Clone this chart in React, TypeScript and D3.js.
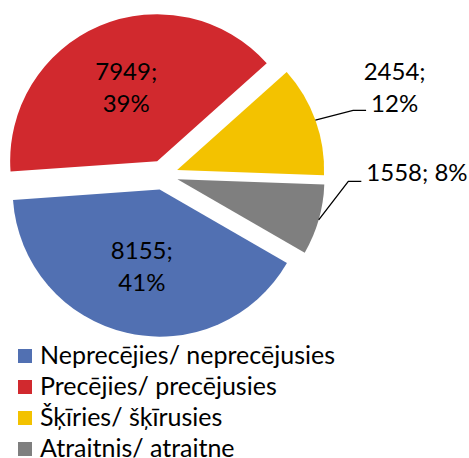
import React, { useEffect, useRef } from 'react';
import * as d3 from 'd3';

// data
const categories = [
  'Neprecējies/ neprecējusies',
  'Precējies/ precējusies',
  'Šķīries/ šķīrusies',
  'Atraitnis/ atraitne',
];
const counts = [8155, 7949, 2454, 1558];
const percentLabels = ['41%', '39%', '12%', '8%'];
const colors = ['#5170B2', '#D1292E', '#F3C200', '#7F7F7F'];
// how each data label is drawn: inside two lines, outside two lines, outside one line
const labelModes = ['inside', 'inside', 'outside2', 'outside1'];

const W = 469;
const H = 458;
const FONT = 'Lato, "Open Sans", sans-serif';

export default function App() {
  const ref = useRef<SVGSVGElement>(null);

  useEffect(() => {
    const svg = d3.select(ref.current);
    svg.selectAll('*').remove();

    const cx = 163;
    const cy = 175;
    const r = 147;
    const explode = 15;
    const start = (120 * Math.PI) / 180;

    const data = categories.map((c, i) => ({ name: c, value: counts[i], pct: percentLabels[i], i }));

    const pie = d3.pie<any>()
      .sort(null)
      .value(d => d.value)
      .startAngle(start)
      .endAngle(start + 2 * Math.PI);

    const arc = d3.arc<any>().innerRadius(0).outerRadius(r);
    const arcs = pie(data);

    const polar = (a: number, d: number) => [Math.sin(a) * d, -Math.cos(a) * d];

    const g = svg.append('g').attr('transform', `translate(${cx},${cy})`);

    const slice = g.selectAll('g.slice')
      .data(arcs).enter()
      .append('g')
      .attr('class', 'slice')
      .attr('transform', d => {
        const m = (d.startAngle + d.endAngle) / 2;
        const [dx, dy] = polar(m, explode);
        return `translate(${dx},${dy})`;
      });

    slice.append('path')
      .attr('d', arc)
      .attr('fill', (d, i) => colors[i]);

    // inside labels
    slice.filter((d, i) => labelModes[i] === 'inside')
      .append('text')
      .attr('text-anchor', 'middle')
      .attr('font-family', FONT)
      .attr('font-size', 24)
      .attr('fill', '#000')
      .each(function (d: any) {
        const m = (d.startAngle + d.endAngle) / 2;
        const [x, y] = polar(m, r * 0.54);
        const t = d3.select(this);
        t.append('tspan').attr('x', x).attr('y', y - 16 + 8).text(d.data.value + ';');
        t.append('tspan').attr('x', x).attr('y', y + 16 + 8).text(d.data.pct);
      });

    // outside labels with leader lines
    const outside = slice.filter((d, i) => labelModes[i] !== 'inside');
    outside.each(function (d: any) {
      const sel = d3.select(this);
      const m = (d.startAngle + d.endAngle) / 2;
      const [ex, ey] = polar(m, r);
      const mode = labelModes[d.data.i];
      // label anchor relative to slice origin
      const labAng = mode === 'outside2' ? m - 0.012 : (88.6 * Math.PI) / 180;
      const labDist = mode === 'outside2' ? r * 1.58 : r * 1.63;
      const [lx, ly] = polar(labAng, labDist);
      const t = sel.append('text')
        .attr('font-family', FONT)
        .attr('font-size', 24)
        .attr('fill', '#000')
        .attr('text-anchor', 'middle');
      let lineLeft = 0;
      let lineY = 0;
      if (mode === 'outside2') {
        t.append('tspan').attr('x', lx).attr('y', ly - 16 + 8).text(d.data.value + ';');
        const s2 = t.append('tspan').attr('x', lx).attr('y', ly + 16 + 8).text(d.data.pct);
        const w2 = (s2.node() as SVGTSpanElement).getComputedTextLength();
        lineLeft = lx - w2 / 2 - 5;
        lineY = ly + 22;
      } else {
        const s = t.append('tspan').attr('x', lx).attr('y', ly + 8).text(d.data.value + '; ' + d.data.pct);
        const w = (s.node() as SVGTSpanElement).getComputedTextLength();
        lineLeft = lx - w / 2 - 5;
        lineY = ly + 8;
      }
      sel.append('polyline')
        .attr('points', [[ex, ey], [lineLeft - 13, lineY], [lineLeft, lineY]].map(p => p.join(',')).join(' '))
        .attr('fill', 'none')
        .attr('stroke', '#000')
        .attr('stroke-width', 1.3);
    });

    // legend
    const legend = svg.append('g').attr('transform', 'translate(18,355)');
    const row = legend.selectAll('g.row')
      .data(categories).enter()
      .append('g')
      .attr('class', 'row')
      .attr('transform', (d, i) => `translate(0,${i * 31})`);
    row.append('rect')
      .attr('x', 0).attr('y', -6)
      .attr('width', 14).attr('height', 14)
      .attr('fill', (d, i) => colors[i]);
    row.append('text')
      .attr('x', 22).attr('y', 9)
      .attr('font-family', FONT)
      .attr('font-size', 25)
      .attr('fill', '#000')
      .text(d => d);
  }, []);

  return (
    <svg ref={ref} width={W} height={H}
      style={{ position: 'absolute', left: 0, top: 0, background: '#fff' }} />
  );
}
